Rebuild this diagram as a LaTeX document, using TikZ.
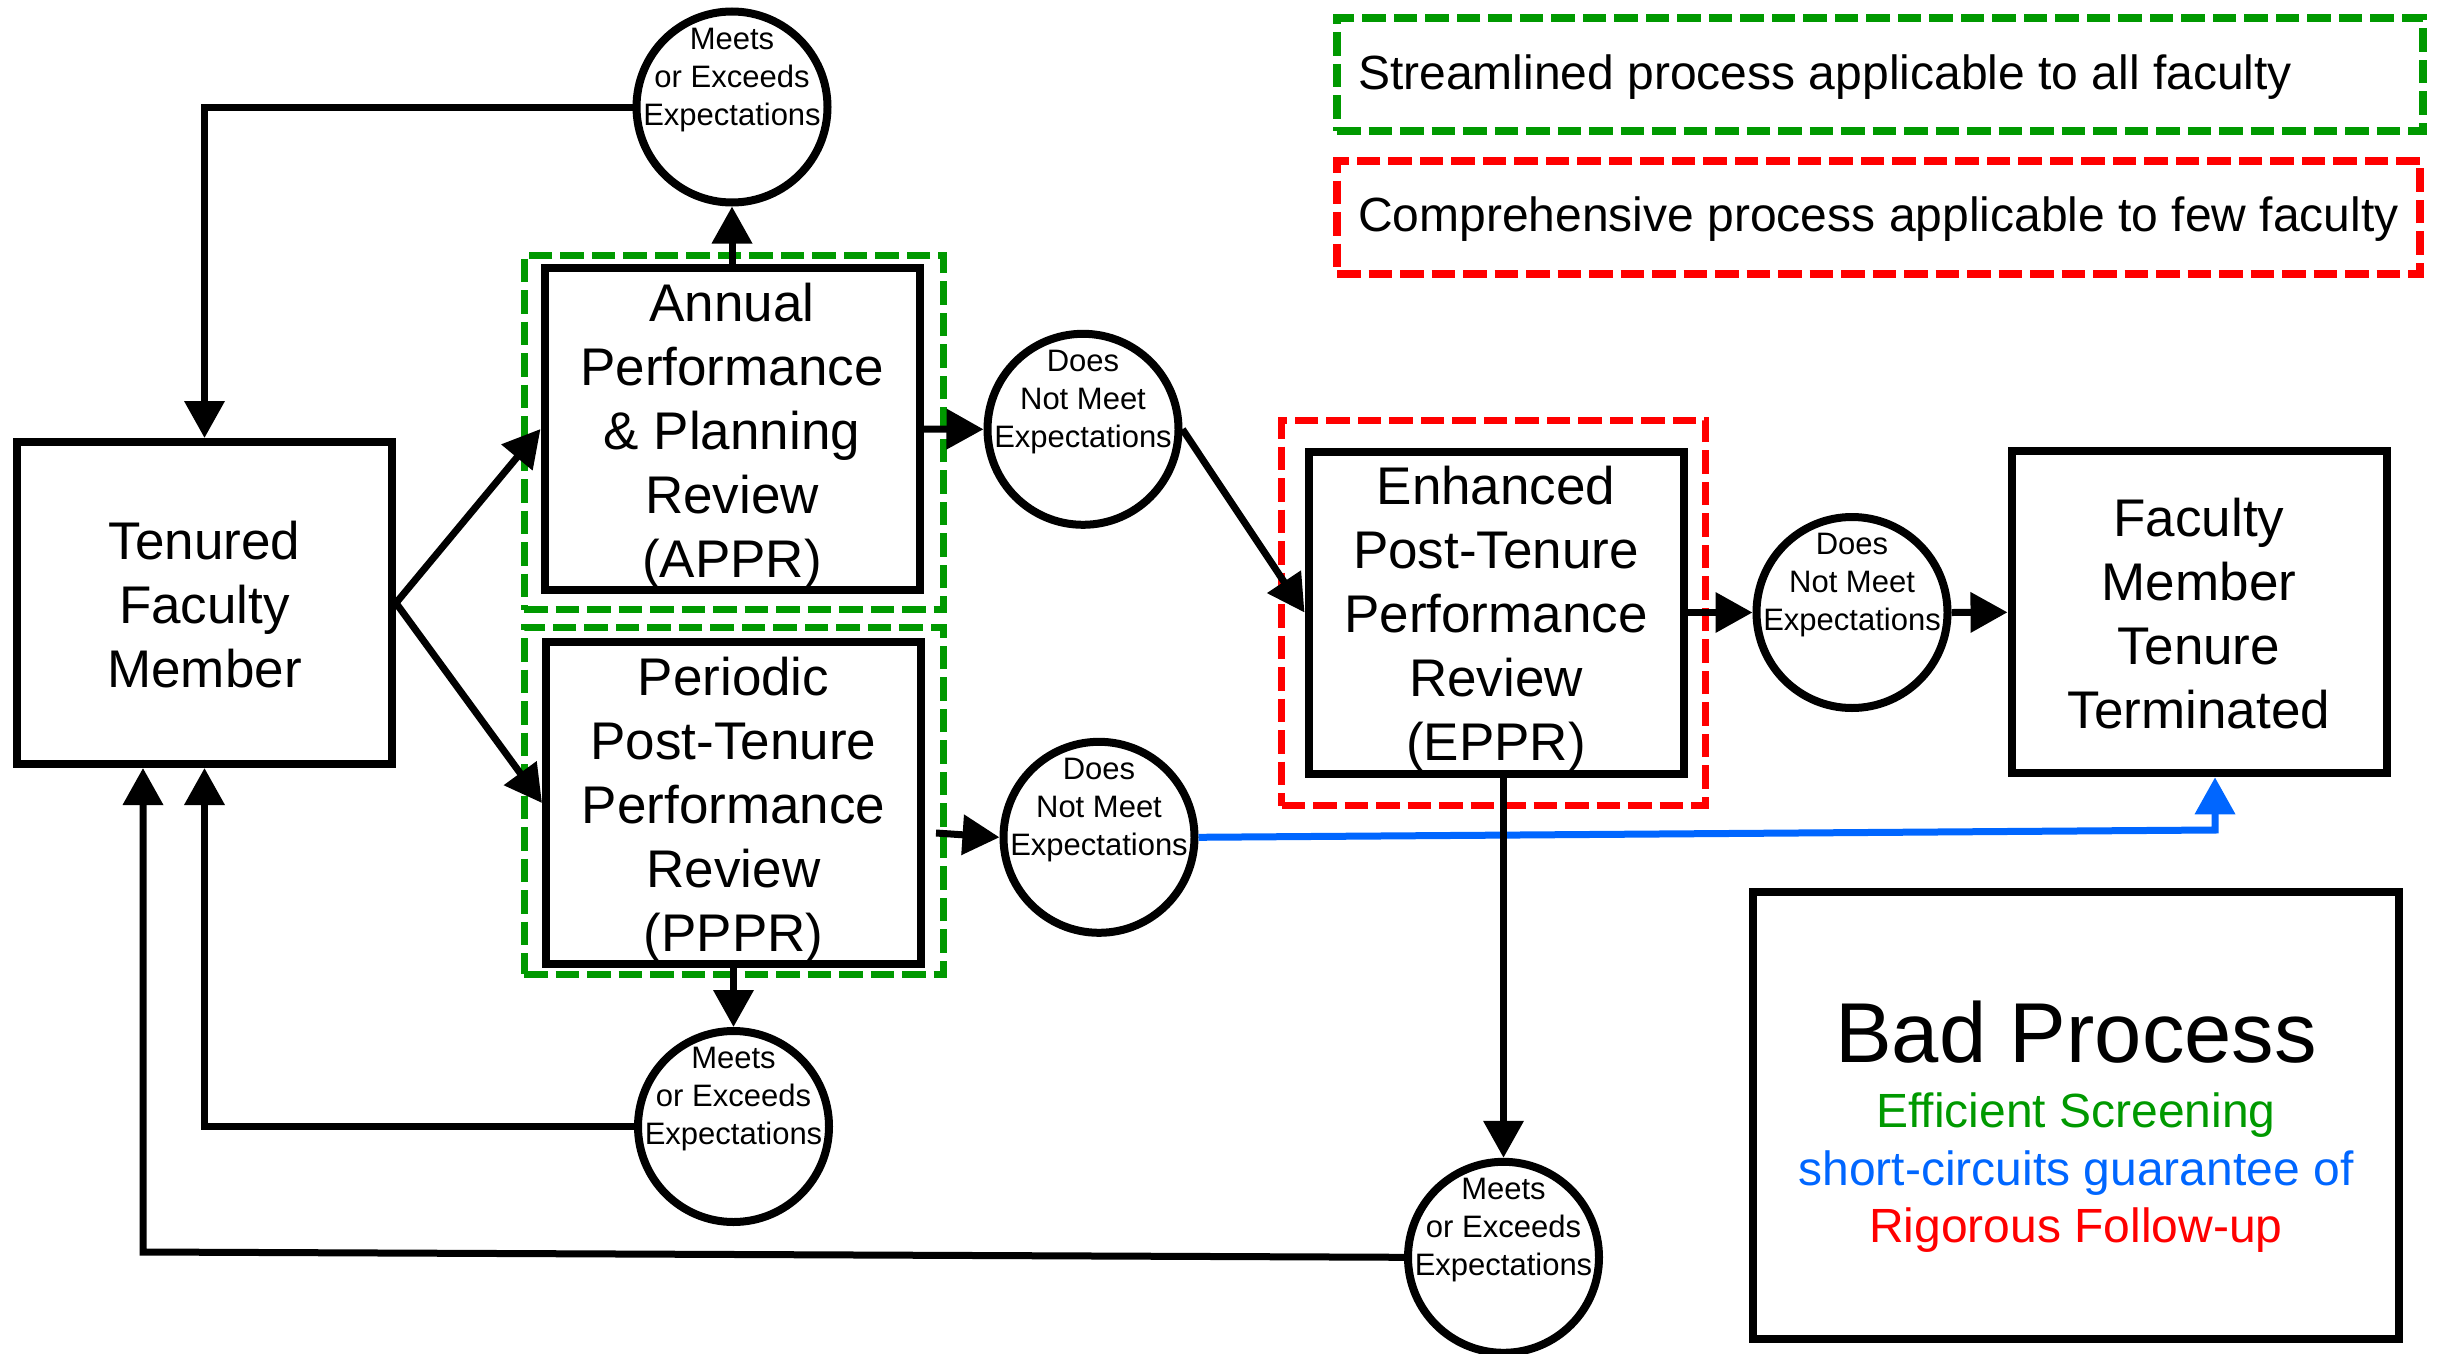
\documentclass[tikz,border=0pt]{standalone}
\usepackage{fontspec}
\setmainfont{Liberation Sans}
\usetikzlibrary{arrows.meta}
\definecolor{fgreen}{HTML}{009900}
\definecolor{fblue}{HTML}{0066FF}
\definecolor{fred}{HTML}{FF0000}
\newcommand{\boxstrut}{\rule[-12pt]{0pt}{64pt}}
\newcommand{\circstrut}{\rule[-9pt]{0pt}{38pt}}
\newcommand{\badstrut}{\rule[-13.5pt]{0pt}{57.5pt}}
\begin{document}
\begin{tikzpicture}[x=1pt,y=-1pt,
  box/.style={draw, line width=8pt, minimum width=375pt, minimum height=322pt, inner sep=0pt, align=center, font=\fontsize{53}{64}\selectfont},
  circ/.style={draw, circle, line width=8pt, minimum size=191pt, inner sep=0pt},
  ctext/.style={align=center, inner sep=0pt, font=\fontsize{31}{38}\selectfont},
  gframe/.style={draw=fgreen, line width=7pt, dash pattern=on 23.5pt off 8pt, inner sep=0pt},
  rframe/.style={draw=fred, line width=7pt, dash pattern=on 23.5pt off 8pt, inner sep=0pt},
  legtext/.style={anchor=base west, inner sep=0pt, font=\fontsize{48}{58}\selectfont},
  conn/.style={line width=7pt, -{Triangle[length=37pt,width=39pt]}},
]
\useasboundingbox (0,0) rectangle (2447,1354);

% group frames
\node[gframe, minimum width=419.5pt, minimum height=354.5pt] (ga) at (733.8,432.3) {};
\node[gframe, minimum width=419.5pt, minimum height=347pt] (gp) at (733.8,800.5) {};
\node[rframe, minimum width=424pt, minimum height=385.5pt] (re) at (1493.5,612.8) {};

% legend
\node[gframe, line width=8pt, minimum width=1086pt, minimum height=113pt] (lg) at (1880,74.5) {};
\node[rframe, line width=8pt, minimum width=1083pt, minimum height=113.6pt] (lr) at (1878.5,217.5) {};
\node[legtext] (lgt) at (1358,89.3) {Streamlined process applicable to all faculty};
\node[legtext] (lrt) at (1358,231.7) {Comprehensive process applicable to few faculty};

% boxes
\node[box] (tfm) at (204.5,603) {\boxstrut Tenured\\\boxstrut Faculty\\\boxstrut Member};
\node[box] (appr) at (732,429) {\boxstrut Annual\\\boxstrut Performance\\\boxstrut \& Planning\\\boxstrut Review\\\boxstrut (APPR)};
\node[box] (pppr) at (733.5,803) {\boxstrut Periodic\\\boxstrut Post-Tenure\\\boxstrut Performance\\\boxstrut Review\\\boxstrut (PPPR)};
\node[box] (eppr) at (1496,612.5) {\boxstrut Enhanced\\\boxstrut Post-Tenure\\\boxstrut Performance\\\boxstrut Review\\\boxstrut (EPPR)};
\node[box] (fmtt) at (2199,612.3) {\boxstrut Faculty\\\boxstrut Member\\\boxstrut Tenure\\\boxstrut Terminated};

% circles
\node[circ] (m1) at (732,107) {};
\node[ctext] (m1t) at ([yshift=30pt]m1.center) {\circstrut Meets\\\circstrut or Exceeds\\\circstrut Expectations};
\node[circ] (m2) at (733.5,1126.5) {};
\node[ctext] (m2t) at ([yshift=30pt]m2.center) {\circstrut Meets\\\circstrut or Exceeds\\\circstrut Expectations};
\node[circ] (m3) at (1503.5,1257.3) {};
\node[ctext] (m3t) at ([yshift=30pt]m3.center) {\circstrut Meets\\\circstrut or Exceeds\\\circstrut Expectations};
\node[circ] (d1) at (1083,429.3) {};
\node[ctext] (d1t) at ([yshift=30pt]d1.center) {\circstrut Does\\\circstrut Not Meet\\\circstrut Expectations};
\node[circ] (d2) at (1099,837.3) {};
\node[ctext] (d2t) at ([yshift=30pt]d2.center) {\circstrut Does\\\circstrut Not Meet\\\circstrut Expectations};
\node[circ] (d3) at (1852,612.5) {};
\node[ctext] (d3t) at ([yshift=30pt]d3.center) {\circstrut Does\\\circstrut Not Meet\\\circstrut Expectations};

% bad process box
\node[draw, line width=8pt, minimum width=646pt, minimum height=447pt] (bad) at (2076,1115.5) {};
\node[anchor=base, inner sep=0pt, font=\fontsize{85}{100}\selectfont] (badt) at (2076,1062.3) {Bad Process};
\node[align=center, inner sep=0pt, font=\fontsize{48}{57.5}\selectfont] (badl) at (2076,1169.75)
  {\badstrut\textcolor{fgreen}{Efficient Screening}\\\badstrut\textcolor{fblue}{short-circuits guarantee of}\\\badstrut\textcolor{fred}{Rigorous Follow-up}};

% connectors
\draw[conn] (tfm.east) -- (appr.west);
\draw[conn] (tfm.east) -- (pppr.west);
\draw[conn] (appr.north) -- (m1.south);
\draw[conn] (m1.west) -| (tfm.north);
\draw[conn] (appr.east) -- (d1.west);
\draw[conn] (d1.east) -- (eppr.west);
\coordinate (p2) at (936,833);
\draw[conn] (p2) -- (d2.west);
\draw[conn] (pppr.south) -- (m2.north);
\draw[conn] (m2.west) -| (tfm.south);
\coordinate (bc) at (2215,830);
\draw[conn, fblue] (d2.east) -- (bc) -- (bc |- fmtt.south);
\draw[conn] (m3.north |- eppr.south) -- (m3.north);
\coordinate (c3) at (143,1252);
\draw[conn] (m3.west) -- (c3) -- (c3 |- tfm.south);
\draw[conn] (eppr.east) -- (d3.west);
\draw[conn] (d3.east) -- (fmtt.west);
\end{tikzpicture}
\end{document}
